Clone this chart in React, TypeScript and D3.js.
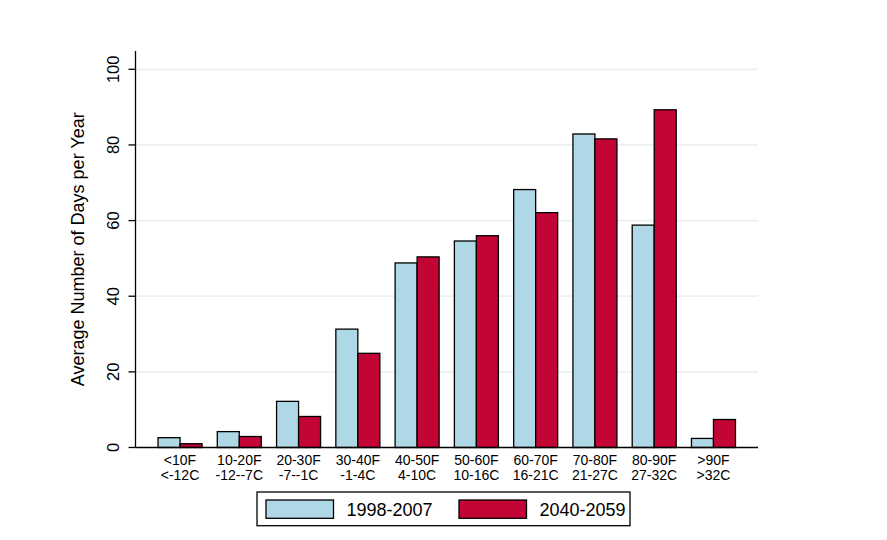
import React from "react";
import * as d3 from "d3";

const categories = ["<10F|<-12C", "10-20F|-12--7C", "20-30F|-7--1C", "30-40F|-1-4C", "40-50F|4-10C", "50-60F|10-16C", "60-70F|16-21C", "70-80F|21-27C", "80-90F|27-32C", ">90F|>32C"];
const seriesNames = ["1998-2007", "2040-2059"];
const values1998 = [2.6, 4.2, 12.2, 31.3, 48.8, 54.6, 68.2, 82.9, 58.8, 2.4];
const values2040 = [1.0, 2.9, 8.2, 24.9, 50.4, 56.0, 62.1, 81.6, 89.3, 7.4];
const yTicks = [0, 20, 40, 60, 80, 100];
const colors = ["#aed8e6", "#c20534"];

const W = 887;
const H = 540;
const plotLeft = 135.5;
const plotRight = 758;
const plotTop = 51;
const plotBottom = 447.5;

export default function App() {
  const y = d3.scaleLinear().domain([0, 100]).range([plotBottom, 69.3]);
  const x = d3
    .scaleBand<string>()
    .domain(categories)
    .range([plotLeft, plotRight])
    .paddingInner(0.2576)
    .paddingOuter(0.38);
  const inner = d3.scaleBand<string>().domain(seriesNames).range([0, x.bandwidth()]);
  const series = [values1998, values2040];
  const font = "Arial, 'Liberation Sans', Helvetica, sans-serif";

  return (
    <svg
      width={W}
      height={H}
      style={{ position: "absolute", left: 0, top: 0, background: "#fff" }}
      fontFamily={font}
    >
      <rect x={0} y={0} width={W} height={H} fill="#fff" />
      {/* gridlines */}
      {yTicks
        .filter((t) => t > 0)
        .map((t) => (
          <line key={t} x1={plotLeft} x2={plotRight} y1={y(t)} y2={y(t)} stroke="#eaf0f4" strokeWidth={1.8} />
        ))}
      {/* bars */}
      {categories.map((c, i) => (
        <g key={c} transform={`translate(${x(c)},0)`}>
          {seriesNames.map((s, j) => {
            const v = series[j][i];
            return (
              <rect
                key={s}
                x={inner(s)}
                y={y(v)}
                width={inner.bandwidth()}
                height={y(0) - y(v)}
                fill={colors[j]}
                stroke="#000"
                strokeWidth={1.3}
              />
            );
          })}
        </g>
      ))}
      {/* axes */}
      <line x1={plotLeft} x2={plotLeft} y1={plotTop} y2={plotBottom} stroke="#000" strokeWidth={1.3} />
      <line x1={plotLeft} x2={plotRight} y1={plotBottom} y2={plotBottom} stroke="#000" strokeWidth={1.3} />
      {yTicks.map((t) => (
        <g key={t}>
          <line x1={plotLeft - 7} x2={plotLeft} y1={y(t)} y2={y(t)} stroke="#000" strokeWidth={1.3} />
          <text
            transform={`translate(119.3,${y(t)}) rotate(-90)`}
            textAnchor="middle"
            fontSize={16.5}
            fill="#000"
          >
            {t}
          </text>
        </g>
      ))}
      <text
        transform={`translate(84,${(plotTop + plotBottom) / 2}) rotate(-90)`}
        textAnchor="middle"
        fontSize={18}
        fill="#000"
      >
        Average Number of Days per Year
      </text>
      {/* x labels */}
      {categories.map((c) => {
        const [l1, l2] = c.split("|");
        const cx = (x(c) as number) + x.bandwidth() / 2;
        return (
          <text key={c} textAnchor="middle" fontSize={14} fill="#000">
            <tspan x={cx} y={465}>{l1}</tspan>
            <tspan x={cx} y={479.5}>{l2}</tspan>
          </text>
        );
      })}
      {/* legend */}
      <rect x={257} y={492} width={373} height={33.7} fill="#fff" stroke="#000" strokeWidth={1.3} />
      {seriesNames.map((s, j) => {
        const sx = j === 0 ? 266 : 459;
        return (
          <g key={s}>
            <rect x={sx} y={500} width={67.5} height={18.3} fill={colors[j]} stroke="#000" strokeWidth={1.3} />
            <text x={sx + 80.5} y={516} fontSize={18} fill="#000">
              {s}
            </text>
          </g>
        );
      })}
    </svg>
  );
}
